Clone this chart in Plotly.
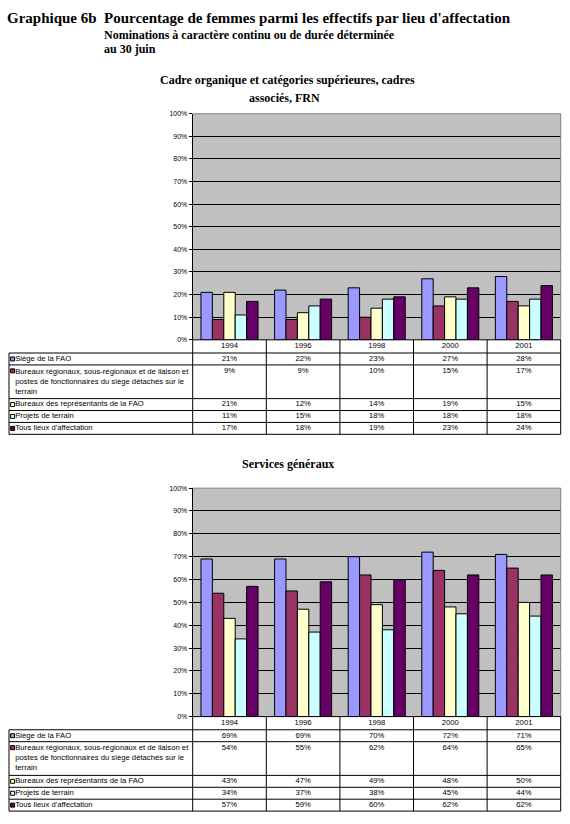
import plotly.graph_objects as go

# ---------------- data ----------------
years = ["1994", "1996", "1998", "2000", "2001"]

series_labels = [
    "Siège de la FAO",
    "Bureaux régionaux, sous-régionaux et de liaison et<br>postes de fonctionnaires du siège détachés sur le<br>terrain",
    "Bureaux des représentants de la FAO",
    "Projets de terrain",
    "Tous lieux d'affectation",
]

series_colors = ["#9999FF", "#993366", "#FFFFCC", "#CCFFFF", "#660066"]

# Cadre organique et catégories supérieures, cadres associés, FRN (%)
cadre_siege = [21, 22, 23, 27, 28]
cadre_bureaux_reg = [9, 9, 10, 15, 17]
cadre_representants = [21, 12, 14, 19, 15]
cadre_projets = [11, 15, 18, 18, 18]
cadre_tous = [17, 18, 19, 23, 24]

# Services généraux (%)
sg_siege = [69, 69, 70, 72, 71]
sg_bureaux_reg = [54, 55, 62, 64, 65]
sg_representants = [43, 47, 49, 48, 50]
sg_projets = [34, 37, 38, 45, 44]
sg_tous = [57, 59, 60, 62, 62]

y_tick_values = [0, 10, 20, 30, 40, 50, 60, 70, 80, 90, 100]
y_tick_labels = [f"{v}%" for v in y_tick_values]

main_title = "Pourcentage de femmes parmi les effectifs par lieu d'affectation"
main_label = "Graphique 6b"
subtitle_1 = "Nominations à caractère continu ou de durée déterminée"
subtitle_2 = "au 30 juin"

# ---------------- layout constants (pixels) ----------------
W, H = 570, 824
PLOT_LEFT, PLOT_RIGHT = 192.7, 560.7
CAT_W = (PLOT_RIGHT - PLOT_LEFT) / len(years)
TABLE_LEFT_PX = 9.0
HEADER_H = 13.3
LINE_H = 11.0
PAD = 4.0
MARKER_PX = 12.6
LABEL_PX = 15.2
SERIF = "Times New Roman, Liberation Serif, serif"
SANS = "Arial, Liberation Sans, sans-serif"
TABLE_FONT = 7.7


def px(xp):
    return xp / W


def py(yp):
    return 1 - yp / H


def xcat(xp):
    """pixel -> table category coordinate"""
    return -0.5 + (xp - PLOT_LEFT) / CAT_W


charts = [
    dict(
        series=[cadre_siege, cadre_bureaux_reg, cadre_representants, cadre_projets, cadre_tous],
        top=110.7, bottom=338.7,
        titles=[("Cadre organique et catégories supérieures, cadres", 287, 76.4),
                ("associés, FRN", 284, 95.3)],
    ),
    dict(
        series=[sg_siege, sg_bureaux_reg, sg_representants, sg_projets, sg_tous],
        top=488.3, bottom=718.7,
        titles=[("Services généraux", 288, 463.6)],
    ),
]


def axname(n, kind):
    return kind if n == 1 else f"{kind}{n}"


fig = go.Figure()
shapes = []
annotations = []
layout_axes = {}

row_lines = [lbl.count("<br>") + 1 for lbl in series_labels]
row_heights = [1 + LINE_H * n for n in row_lines]
row_tops = []
acc = HEADER_H
for h in row_heights:
    row_tops.append(acc)
    acc += h
table_total = acc
cat_idx = list(range(len(years)))

for k, ch in enumerate(charts):
    bn = 2 * k + 1
    tn = 2 * k + 2
    bx, by = axname(bn, "x"), axname(bn, "y")
    tx, ty = axname(tn, "x"), axname(tn, "y")

    # ---- bars ----
    for vals, lbl, col in zip(ch["series"], series_labels, series_colors):
        fig.add_trace(go.Bar(
            x=years, y=vals, name=lbl.replace("<br>", " "),
            marker=dict(color=col, line=dict(color="black", width=1)),
            xaxis=bx, yaxis=by, showlegend=False,
            hovertemplate="%{x}: %{y}%<extra></extra>",
        ))

    layout_axes[axname(bn, "xaxis")] = dict(
        domain=[px(PLOT_LEFT), px(PLOT_RIGHT)], anchor=by,
        type="category", range=[-0.5, len(years) - 0.5],
        showticklabels=False, ticks="", showgrid=False, showline=False,
        zeroline=False, fixedrange=True,
    )
    layout_axes[axname(bn, "yaxis")] = dict(
        domain=[py(ch["bottom"]), py(ch["top"])], anchor=bx,
        range=[0, 100], tickmode="array", tickvals=y_tick_values, ticktext=y_tick_labels,
        showgrid=True, gridcolor="black", gridwidth=1,
        ticks="outside", ticklen=3, tickcolor="black", tickwidth=1,
        showline=True, linecolor="black", linewidth=1,
        zeroline=False, tickfont=dict(family=SANS, size=7, color="black"),
        fixedrange=True,
    )
    bxd, byd = bx + " domain", by + " domain"
    shapes.append(dict(type="rect", xref=bxd, yref=byd, x0=0, x1=1, y0=0, y1=1,
                       fillcolor="#C0C0C0", line=dict(width=0), layer="below"))
    shapes.append(dict(type="line", xref=bxd, yref=byd, x0=0, x1=1, y0=1, y1=1,
                       line=dict(color="#808080", width=1), layer="above"))
    shapes.append(dict(type="line", xref=bxd, yref=byd, x0=1, x1=1, y0=0, y1=1,
                       line=dict(color="#808080", width=1), layer="above"))

    # ---- table subplot ----
    tleft, tright = PAD, W - PAD
    layout_axes[axname(tn, "xaxis")] = dict(
        domain=[px(tleft), px(tright)], anchor=ty,
        range=[xcat(tleft), xcat(tright)], visible=False, fixedrange=True,
    )
    layout_axes[axname(tn, "yaxis")] = dict(
        domain=[py(ch["bottom"] + table_total + PAD), py(ch["bottom"] - PAD)], anchor=tx,
        range=[table_total + PAD, -PAD], visible=False, fixedrange=True,
    )
    x_first = xcat(TABLE_LEFT_PX)
    x_last = len(years) - 0.5
    lstyle = dict(color="black", width=1)
    # horizontal lines
    shapes.append(dict(type="line", xref=tx, yref=ty, x0=-0.5, x1=x_last, y0=0, y1=0,
                       line=lstyle, layer="above"))
    for yb in [HEADER_H] + [t + h for t, h in zip(row_tops, row_heights)]:
        shapes.append(dict(type="line", xref=tx, yref=ty, x0=x_first, x1=x_last, y0=yb, y1=yb,
                           line=lstyle, layer="above"))
    # vertical lines
    shapes.append(dict(type="line", xref=tx, yref=ty, x0=x_first, x1=x_first,
                       y0=HEADER_H, y1=table_total, line=lstyle, layer="above"))
    for i in range(len(years) + 1):
        shapes.append(dict(type="line", xref=tx, yref=ty, x0=i - 0.5, x1=i - 0.5,
                           y0=0, y1=table_total, line=lstyle, layer="above"))

    tfont = dict(family=SANS, size=TABLE_FONT, color="black")
    # header years
    fig.add_trace(go.Scatter(
        x=cat_idx, y=[HEADER_H / 2] * len(years), text=years, mode="text",
        textposition="middle center", textfont=tfont, xaxis=tx, yaxis=ty,
        showlegend=False, hoverinfo="skip", cliponaxis=False,
    ))
    # values, labels, legend keys
    for vals, lbl, col, top, h in zip(ch["series"], series_labels, series_colors,
                                      row_tops, row_heights):
        fig.add_trace(go.Scatter(
            x=cat_idx, y=[top + LINE_H / 2 + 0.5] * len(years),
            text=[f"{v}%" for v in vals], mode="text",
            textposition="middle center", textfont=tfont, xaxis=tx, yaxis=ty,
            showlegend=False, hoverinfo="skip", cliponaxis=False,
        ))
        fig.add_trace(go.Scatter(
            x=[xcat(LABEL_PX)], y=[top + h / 2], text=[lbl], mode="text",
            textposition="middle right", textfont=tfont, marker=dict(size=0),
            xaxis=tx, yaxis=ty, showlegend=False, hoverinfo="skip", cliponaxis=False,
        ))
        fig.add_trace(go.Scatter(
            x=[xcat(MARKER_PX)], y=[top + LINE_H / 2 + 0.5], mode="markers",
            marker=dict(symbol="square", size=4, color=col,
                        line=dict(color="black", width=1)),
            xaxis=tx, yaxis=ty, showlegend=False, hoverinfo="skip", cliponaxis=False,
        ))

    for txt, cx, cy in ch["titles"]:
        annotations.append(dict(
            text=txt, x=px(cx), y=py(cy), xref="paper", yref="paper",
            xanchor="center", yanchor="middle", showarrow=False,
            font=dict(family=SERIF, size=12, color="black", weight="bold"),
        ))

annotations += [
    dict(text=main_label, x=px(5), y=py(14), xref="paper", yref="paper",
         xanchor="left", yanchor="middle", showarrow=False,
         font=dict(family=SERIF, size=15, color="black", weight="bold")),
    dict(text=main_title, x=px(102), y=py(14), xref="paper", yref="paper",
         xanchor="left", yanchor="middle", showarrow=False,
         font=dict(family=SERIF, size=15, color="black", weight="bold")),
    dict(text=subtitle_1, x=px(102), y=py(31), xref="paper", yref="paper",
         xanchor="left", yanchor="middle", showarrow=False,
         font=dict(family=SERIF, size=12, color="black", weight="bold")),
    dict(text=subtitle_2, x=px(102), y=py(45), xref="paper", yref="paper",
         xanchor="left", yanchor="middle", showarrow=False,
         font=dict(family=SERIF, size=12, color="black", weight="bold")),
]

fig.update_layout(
    width=W, height=H, margin=dict(l=0, r=0, t=0, b=0, pad=0),
    paper_bgcolor="white", plot_bgcolor="rgba(0,0,0,0)",
    barmode="group", bargap=0.225, bargroupgap=0,
    showlegend=False, shapes=shapes, annotations=annotations,
    font=dict(family=SANS, color="black"),
    **layout_axes,
)

fig.write_html(
    "out.html",
    config={"displayModeBar": False, "staticPlot": False},
    post_script="document.body.style.margin='0';document.body.style.overflow='hidden';",
)
